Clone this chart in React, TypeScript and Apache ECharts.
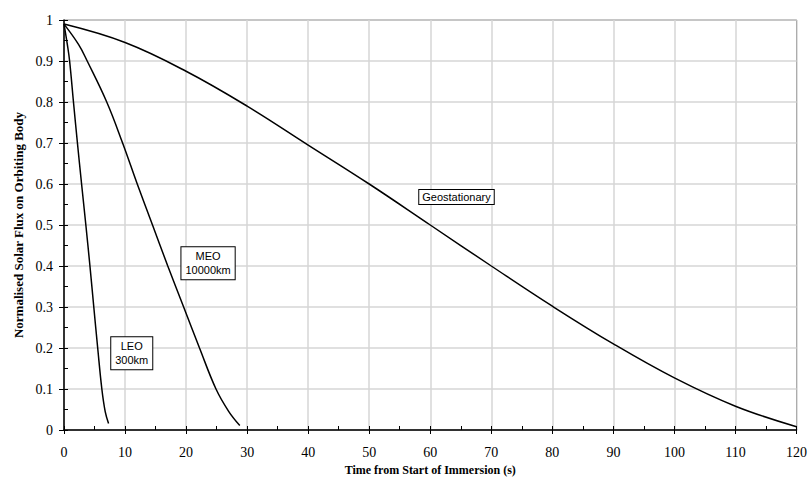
import React, { useEffect, useRef } from "react";
import * as echarts from "echarts";

const xTicks = [0, 10, 20, 30, 40, 50, 60, 70, 80, 90, 100, 110, 120];
const yTicks = [0, 0.1, 0.2, 0.3, 0.4, 0.5, 0.6, 0.7, 0.8, 0.9, 1];

const geoTime = [0, 10, 20, 30, 40, 50, 60, 70, 80, 90, 100, 110, 120];
const geoFlux = [0.99, 0.945, 0.875, 0.79, 0.695, 0.6, 0.5, 0.4, 0.302, 0.21, 0.127, 0.058, 0.008];

const meoTime = [0, 2.4, 3.8, 7.0, 9.6, 12, 14.5, 17, 19.6, 22.2, 24.9, 27, 28.8];
const meoFlux = [0.99, 0.94, 0.9, 0.8, 0.7, 0.6, 0.5, 0.4, 0.3, 0.2, 0.1, 0.045, 0.011];

const leoTime = [0, 0.55, 0.92, 1.55, 2.2, 2.88, 3.58, 4.25, 4.88, 5.52, 6.2, 6.75, 7.3];
const leoFlux = [0.99, 0.94, 0.9, 0.8, 0.7, 0.6, 0.5, 0.4, 0.3, 0.2, 0.1, 0.045, 0.016];

const labels = [
  { series: "Geostationary", text: "Geostationary", t: 64.3, v: 0.568 },
  { series: "MEO", text: "MEO\n10000km", t: 23.6, v: 0.407 },
  { series: "LEO", text: "LEO\n300km", t: 11.1, v: 0.187 },
];

const zip = (a: number[], b: number[]) => a.map((x, i) => [x, b[i]]);

export default function App() {
  const ref = useRef<HTMLDivElement>(null);
  useEffect(() => {
    if (!ref.current) return;
    const chart = echarts.init(ref.current, null, { renderer: "svg" });
    const serif = "'Liberation Serif', 'Times New Roman', serif";
    const sans = "'Liberation Sans', Arial, sans-serif";
    const mkSeries = (name: string, t: number[], v: number[]) => {
      const lab = labels.find((l) => l.series === name)!;
      return {
        name,
        type: "line",
        xAxisIndex: 0,
        yAxisIndex: 0,
        data: zip(t, v),
        smooth: 0.4,
        showSymbol: false,
        symbol: "none",
        lineStyle: { color: "#000", width: 1.5 },
        markPoint: {
          symbol: "rect",
          symbolSize: 0,
          data: [
            {
              coord: [lab.t, lab.v],
              label: {
                show: true,
                formatter: lab.text,
                position: "inside",
                color: "#000",
                fontFamily: sans,
                fontSize: 11,
                lineHeight: 14,
                align: "center",
                verticalAlign: "middle",
                backgroundColor: "#fff",
                borderColor: "#000",
                borderWidth: 1,
                padding: lab.text.includes("\n") ? [2, 4, 2, 4] : [0, 3, 0, 3],
              },
            },
          ],
        },
      };
    };
    chart.setOption({
      animation: false,
      backgroundColor: "#fff",
      grid: {
        left: 64,
        right: 11,
        top: 20,
        bottom: 55,
        show: true,
        borderColor: "#333",
        borderWidth: 1,
        backgroundColor: "transparent",
      },
      xAxis: [
        {
          type: "value",
          min: xTicks[0],
          max: xTicks[xTicks.length - 1],
          interval: 10,
          position: "bottom",
          name: "Time from Start of Immersion (s)",
          nameLocation: "middle",
          nameGap: 31,
          nameTextStyle: { fontFamily: serif, fontWeight: "bold", fontSize: 12, color: "#000" },
          axisLine: { show: true, onZero: false, lineStyle: { color: "#000", width: 1.5 } },
          axisTick: { show: true, inside: false, length: 4, lineStyle: { color: "#000", width: 1 } },
          axisLabel: { fontFamily: serif, fontSize: 14, color: "#000", margin: 15 },
          splitLine: { show: true, lineStyle: { color: "#d6d6d6", width: 1.5 } },
        },
        {
          type: "value",
          min: 0,
          max: 120,
          interval: 5,
          position: "bottom",
          axisLine: { show: false, onZero: false },
          axisTick: { show: true, inside: true, length: 4, lineStyle: { color: "#000", width: 1 } },
          axisLabel: { show: false },
          splitLine: { show: false },
        },
      ],
      yAxis: [
        {
          type: "value",
          min: yTicks[0],
          max: yTicks[yTicks.length - 1],
          interval: 0.1,
          position: "left",
          name: "Normalised Solar Flux on Orbiting Body",
          nameLocation: "middle",
          nameGap: 39,
          nameRotate: 90,
          nameTextStyle: { fontFamily: serif, fontWeight: "bold", fontSize: 13, color: "#000" },
          axisLine: { show: true, onZero: false, lineStyle: { color: "#000", width: 1.5 } },
          axisTick: { show: true, inside: false, length: 5, lineStyle: { color: "#000", width: 1 } },
          axisLabel: { fontFamily: serif, fontSize: 14, color: "#000", margin: 11 },
          splitLine: { show: true, lineStyle: { color: "#d6d6d6", width: 1.5 } },
        },
        {
          type: "value",
          min: 0,
          max: 1,
          interval: 0.05,
          position: "left",
          axisLine: { show: false, onZero: false },
          axisTick: { show: true, inside: true, length: 4, lineStyle: { color: "#000", width: 1 } },
          axisLabel: { show: false },
          splitLine: { show: false },
        },
      ],
      series: [
        mkSeries("Geostationary", geoTime, geoFlux),
        mkSeries("MEO", meoTime, meoFlux),
        mkSeries("LEO", leoTime, leoFlux),
      ],
    });
    return () => chart.dispose();
  }, []);
  return (
    <div
      ref={ref}
      style={{ position: "absolute", left: 0, top: 0, width: 810, height: 485 }}
    />
  );
}
